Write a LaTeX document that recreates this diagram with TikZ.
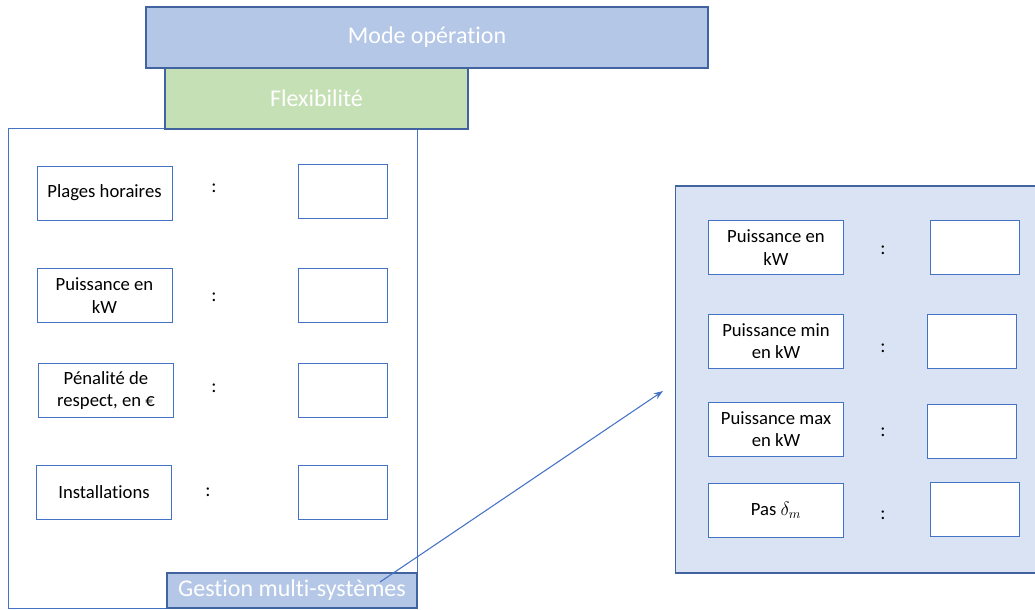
\documentclass[tikz,border=0pt]{standalone}
\usepackage{fontspec}
\setmainfont{Carlito}[Ligatures=NoCommon]
\usepackage{tikz}
\usetikzlibrary{arrows.meta,positioning}
\definecolor{FrameBlue}{RGB}{68,114,196}
\definecolor{DarkBlue}{RGB}{65,100,160}
\definecolor{TitleBlue}{RGB}{180,199,231}
\definecolor{TitleGreen}{RGB}{197,224,180}
\definecolor{PanelBlue}{RGB}{218,227,243}

\begin{document}
\begin{tikzpicture}[x=0.75pt,y=-0.75pt,
  titlebox/.style={draw=DarkBlue,line width=0.8pt,text=white,inner sep=0pt,font=\fontsize{18}{21.6}\selectfont},
  labelbox/.style={draw=FrameBlue,fill=white,line width=0.75pt,minimum width=101.25pt,minimum height=40.5pt,inner sep=0pt,align=center,font=\fontsize{14}{16.8}\selectfont},
  valuebox/.style={draw=FrameBlue,fill=white,line width=0.75pt,minimum width=66.75pt,minimum height=40.5pt,inner sep=0pt},
  colon/.style={inner sep=0pt,font=\fontsize{14.5}{17}\selectfont}]
  \useasboundingbox (0,0) rectangle (1035,610);

  % left panel
  \node[draw=FrameBlue,line width=0.75pt,minimum width=306.75pt,minimum height=360pt,inner sep=0pt] (flexpanel) at (212.5,368) {};
  \node[titlebox,fill=TitleGreen,minimum width=227.25pt,minimum height=45.75pt] (flex) at (316.5,98.5) {Flexibilité};
  \node[titlebox,fill=TitleBlue,minimum width=421.5pt,minimum height=45.75pt] (mode) at (427,37.5) {Mode opération};

  \node[labelbox] (plages) at (104.5,193) {Plages horaires};
  \node[colon] (plagescolon) at (214,188) {:};
  \node[valuebox] (plagesval) at (342.5,191) {};

  \node[labelbox] (puissance) at (104.5,295.5) {Puissance en\\kW};
  \node[colon] (puissancecolon) at (214,297) {:};
  \node[valuebox] (puissanceval) at (342.5,295) {};

  \node[labelbox] (penalite) at (106,390.5) {Pénalité de\\respect, en €};
  \node[colon] (penalitecolon) at (214,388) {:};
  \node[valuebox] (penaliteval) at (342.5,390.5) {};

  \node[labelbox] (install) at (104,492) {Installations};
  \node[colon] (installcolon) at (208,492) {:};
  \node[valuebox] (installval) at (342.5,492) {};

  \node[titlebox,fill=TitleBlue,minimum width=187.5pt,minimum height=26.25pt] (gestion) at (292,590.5) {Gestion multi-systèmes};

  % right panel
  \node[draw=DarkBlue,fill=PanelBlue,line width=0.8pt,minimum width=272pt,minimum height=290.25pt,inner sep=0pt] (multipanel) at (856.5,379.5) {};

  \node[labelbox] (pnom) at (776,247.5) {Puissance en\\kW};
  \node[colon] (pnomcolon) at (883,250) {:};
  \node[valuebox] (pnomval) at (974.5,247.5) {};

  \node[labelbox] (pmin) at (776,341) {Puissance min\\en kW};
  \node[colon] (pmincolon) at (883,348) {:};
  \node[valuebox] (pminval) at (972,341) {};

  \node[labelbox] (pmax) at (776,429) {Puissance max\\en kW};
  \node[colon] (pmaxcolon) at (883,432) {:};
  \node[valuebox] (pmaxval) at (972,431) {};

  \node[labelbox] (pas) at (776,510) {Pas $\delta_m$};
  \node[colon] (pascolon) at (883,515) {:};
  \node[valuebox] (pasval) at (974.5,509) {};

  % link
  \coordinate (gestionlink) at (380,582);
  \coordinate (multilink) at (663,391);
  \draw[FrameBlue,line width=0.8pt,-{Stealth[length=7pt,width=5pt]}] (gestionlink) -- (multilink);
\end{tikzpicture}
\end{document}
